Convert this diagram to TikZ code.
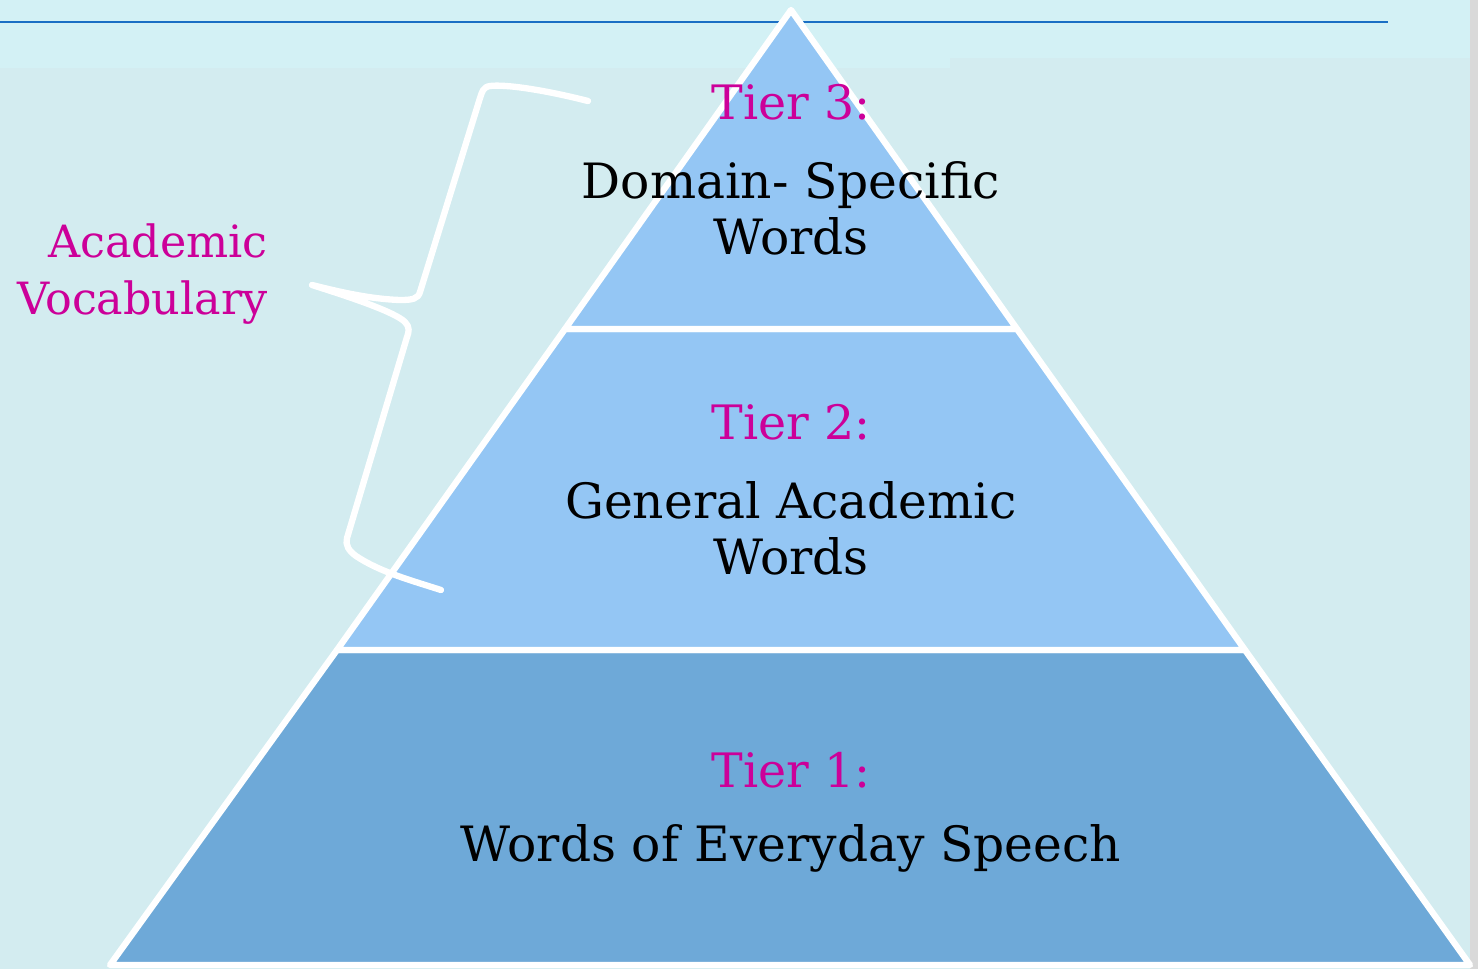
\documentclass[tikz,border=0pt]{standalone}
\usepackage{fontspec}
\setmainfont{DejaVu Serif}
\usepackage{tikz}

\definecolor{bgtop}{HTML}{D3F1F5}
\definecolor{bglow}{HTML}{D3ECF0}
\definecolor{rule}{HTML}{1A6FC4}
\definecolor{tierlight}{HTML}{94C6F4}
\definecolor{tierdark}{HTML}{6EA9D8}
\definecolor{tiermag}{HTML}{CC0099}

\tikzset{tierbox/.style={draw=white, line width=3.6pt, line join=round}}

\begin{document}
\begin{tikzpicture}[x=0.2mm,y=-0.2mm]
        % background
        \fill[bglow] (0,0) rectangle (1478,969);
        \fill[bgtop] (0,0) rectangle (950,68);
        \fill[bgtop] (950,0) rectangle (1470,58);
        \fill[black!15] (1470,0) rectangle (1478,969);
        \useasboundingbox (0,0) rectangle (1478,969);
        \draw[rule, line width=1.2pt] (0,22) -- (1388,22);

        % pyramid
        \filldraw[tierbox, fill=tierdark] (337,650) -- (1245,650) -- (1470,965) -- (110,965) -- cycle;
        \filldraw[tierbox, fill=tierlight] (565,329) -- (1017,329) -- (1245,650) -- (337,650) -- cycle;
        \filldraw[tierbox, fill=tierlight] (791,10) -- (1017,329) -- (565,329) -- cycle;

        % brace
        \draw[white, line width=3.6pt, line cap=round, line join=round]
                (588,101) .. controls (545,90) and (505,84) .. (490,86)
                .. controls (483,87) and (482,92) .. (480,98)
                -- (420,292)
                .. controls (418,299) and (412,300) .. (400,300)
                .. controls (370,299) and (340,292) .. (312,285)
                .. controls (350,297) and (395,312) .. (405,322)
                .. controls (410,327) and (409,332) .. (407,337)
                -- (347,538)
                .. controls (345,545) and (349,551) .. (356,556)
                .. controls (380,572) and (410,580) .. (441,590);

        \begin{scope}[every node/.style={align=center, font=\fontsize{27.7}{32}\selectfont}]
                \node[tiermag, font=\fontsize{27}{32}\selectfont] (T3) at (791,102) {Tier 3:};
                \node (D3) at (791,208) {Domain- Specific\\Words};
                \node[tiermag, font=\fontsize{27}{32}\selectfont] (T2) at (791,422) {Tier 2:};
                \node (D2) at (791,528) {General Academic\\Words};
                \node[tiermag, font=\fontsize{27}{32}\selectfont] (T1) at (791,770) {Tier 1:};
                \node (D1) at (791,848) {Words of Everyday Speech};
                \node[tiermag, align=right, anchor=east, inner sep=0pt,
                      font=\fontsize{25.3}{32.5}\selectfont] (AV) at (268,274) {Academic\\Vocabulary};
        \end{scope}
\end{tikzpicture}
\end{document}
